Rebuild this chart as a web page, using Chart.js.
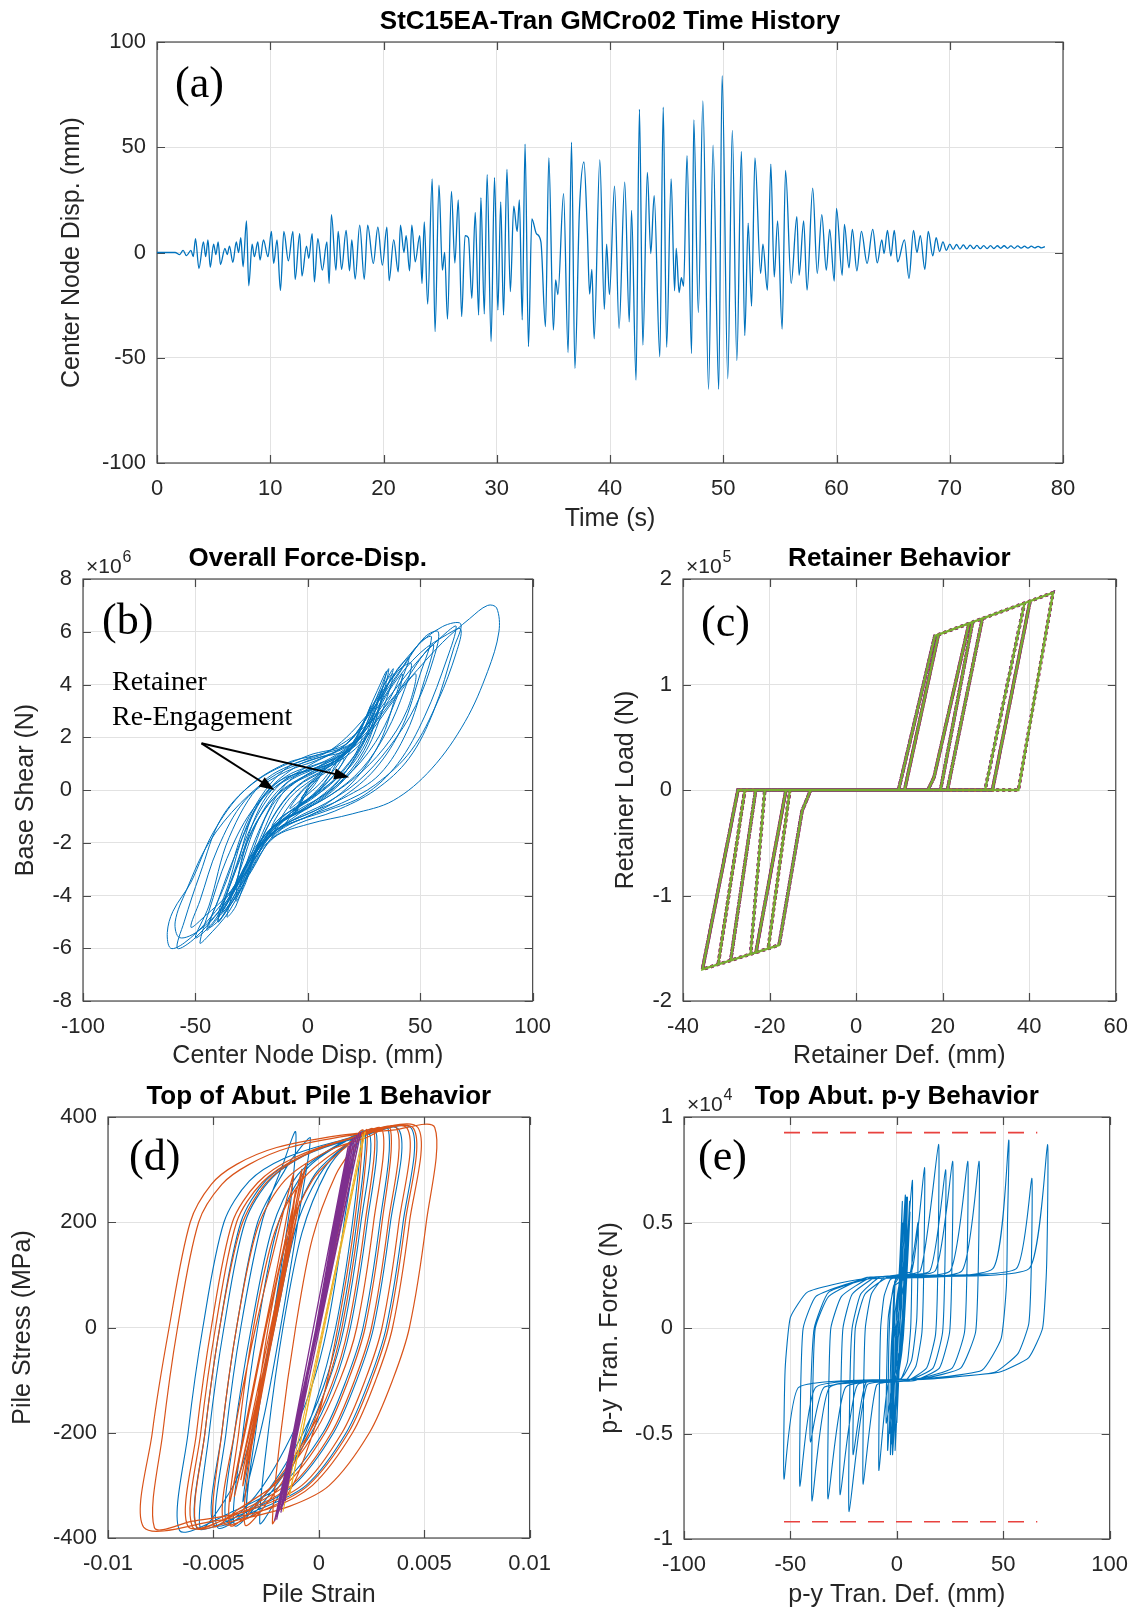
<!DOCTYPE html>
<html>
<head>
<meta charset="utf-8">
<script src="https://cdn.jsdelivr.net/npm/chart.js@4.4.1/dist/chart.umd.min.js"></script>
<style>
  html, body { margin: 0; padding: 0; background: #fff; }
  body { width: 1141px; height: 1612px; position: relative; overflow: hidden; }
  canvas { position: absolute; }
</style>
</head>
<body>
<canvas id="panelA"></canvas>
<canvas id="panelB"></canvas>
<canvas id="panelC"></canvas>
<canvas id="panelD"></canvas>
<canvas id="panelE"></canvas>
<script>
// ---- data ----

// (a) time history: [time s, center node disp mm]
const timeHistory = [
  [0,0],[1.6,0],[2.0,-1],[2.3,1],[2.6,-1.5],[3.0,1],[3.2,-2],[3.4,6.6],[3.7,-7.6],[4.1,5],[4.3,-2],[4.5,6],[4.7,-7],
  [5.0,4],[5.2,-1],[5.4,5],[5.6,-5.7],[6.0,2],[6.2,-1],[6.4,3],[6.7,-4.7],[7.0,5],[7.2,0],[7.4,7],[7.6,-6.8],[7.9,15],
  [8.1,-15.8],[8.4,4],[8.6,-2],[8.9,5],[9.1,-3.6],[9.4,6],[9.8,-2],[10.1,10],[10.3,-5.2],[10.6,6],[10.9,-18],[11.2,10],
  [11.6,-4],[12.0,10],[12.2,-12.8],[12.6,9],[12.8,-11.2],[13.2,3],[13.4,-2.8],[13.7,9],[13.9,-14],[14.2,6.6],[14.6,-8.4],
  [15.0,5],[15.2,-14.7],[15.4,18],[15.8,-8.4],[16.0,10],[16.3,-8],[16.7,10.5],[17.0,-8.7],[17.2,6],[17.5,-12.6],[17.9,13],
  [18.3,-12.8],[18.6,13],[19.1,-5.2],[19.5,12],[19.9,-6],[20.3,12],[20.5,-13.4],[20.9,6],[21.3,-9.2],[21.5,13],[21.8,0],
  [22.0,8],[22.3,-8.7],[22.5,13],[22.8,-4.4],[23.2,8],[23.4,-14.7],[23.6,14.5],[23.9,-24.5],[24.3,35],[24.55,-37.6],
  [24.9,32],[25.2,-8.4],[25.4,0],[25.65,-31.6],[26.0,29],[26.3,-5],[26.6,25],[26.9,-30.5],[27.2,8],[27.5,7],[27.8,-21.8],
  [28.1,19],[28.4,-29.7],[28.6,26],[28.9,-29.2],[29.15,37],[29.5,-42.3],[29.8,35.5],[30.1,-27.3],[30.35,24],[30.6,-29.7],
  [30.9,39.5],[31.2,-18.6],[31.5,22],[31.8,10],[32.0,25],[32.25,-32],[32.5,51.5],[32.8,-44.7],[33.1,16],[33.5,9],[33.9,5],
  [34.3,-35.2],[34.6,45],[35.0,-36.8],[35.2,-13],[35.4,-20],[35.9,28],[36.3,-47.5],[36.6,52.4],[36.9,-55],[37.3,20],
  [37.7,43],[38.0,10],[38.2,-19.8],[38.4,-8],[38.6,-41],[39.1,44],[39.5,-27],[39.7,4],[39.95,-20],[40.4,31.5],[40.8,-36],
  [41.3,33.4],[41.7,-33],[41.9,20],[42.3,-60.6],[42.6,68],[42.9,-44],[43.3,38],[43.6,-0.5],[43.9,27],[44.4,-49.5],
  [44.7,69],[45.0,-45],[45.4,35],[45.7,-18.2],[45.85,2],[46.1,-19],[46.3,-12],[46.5,-16],[46.8,46],[47.2,-48],[47.4,63],
  [47.8,-28.5],[48.2,72],[48.7,-64.9],[49.1,51],[49.6,-64.9],[49.9,84],[50.4,-60],[50.8,58],[51.2,-51.4],[51.6,48],
  [51.9,-39.5],[52.2,14],[52.5,-25.5],[52.8,45],[53.3,-10],[53.5,4],[53.9,-17.9],[54.2,42],[54.5,-11.6],[54.8,15],
  [55.2,-36.4],[55.5,39],[56.0,-14.7],[56.5,17],[56.7,-10.8],[57.1,15],[57.4,-17.9],[57.9,30.6],[58.3,-10],[58.7,18],
  [59.1,-8.4],[59.4,11],[59.8,-13.6],[60.0,21],[60.5,-10.8],[60.7,13.4],[61.1,-7.3],[61.4,11],[61.8,-8.7],[62.2,10],
  [62.7,-5.2],[63.2,11],[63.6,-4.9],[64.0,6],[64.2,-0.5],[64.5,10.5],[64.8,-1.7],[65.1,10.5],[65.4,-4.4],[66.0,6],
  [66.4,-12.3],[66.8,10.5],[67.1,0],[67.4,8],[67.8,-8],[68.1,10],[68.5,-1.6],[68.8,7],[69.1,0.5],[69.4,5],[69.7,1],
  [70.0,4],[70.3,1.5],[70.6,3.8],[70.9,1.6],[71.2,3.6],[71.5,1.7],[71.8,3.5],[72.1,1.8],[72.4,3.4],[72.7,1.8],[73.0,3.3],
  [73.3,1.9],[73.6,3.3],[73.9,1.9],[74.2,3.2],[74.5,2.0],[74.8,3.2],[75.1,2.0],[75.4,3.1],[75.7,2.0],[76.0,3.1],[76.3,2.1],
  [76.6,3.0],[76.9,2.1],[77.2,3.0],[77.5,2.2],[77.8,2.9],[78.1,2.2],[78.4,2.8]
];

// (b) overall force-disp: [disp mm, base shear x1e6 N]
const forceDisp = [
  [0,0],[-3,-0.5],[-5,-0.8],[0,0.1],[5,0.6],[8,0.9],[3,0.2],[-2,-0.3],[-6,-0.9],
  [-2,-0.2],[4,0.4],[10,1.0],[14,1.3],[10,0.6],[4,-0.1],[-4,-0.6],[-12,-1.5],[-16,-1.8],
  [-10,-0.8],[0,0.2],[10,0.8],[18,1.6],[12,0.8],[2,-0.2],[-8,-0.9],[-18,-1.9],[-24,-2.6],
  [-16,-1.1],[-5,0.1],[8,0.8],[20,1.8],[28,3.2],[22,2.0],[12,0.6],[0,-0.4],[-14,-1.2],[-24,-2.8],[-30,-3.6],
  [-22,-1.6],[-10,0.2],[5,0.9],[20,1.8],[30,3.6],[35,4.5],[30,3.0],[22,1.4],[10,0.0],[-5,-0.8],[-20,-1.8],[-30,-3.8],[-38,-4.6],
  [-30,-2.6],[-18,-0.2],[0,0.9],[18,1.8],[30,3.4],[38,4.6],[33,3.4],[25,1.5],[12,0.1],[-4,-0.9],[-20,-2.0],[-32,-4.0],[-40,-5.0],
  [-32,-3.0],[-22,-0.5],[-5,0.9],[15,1.6],[30,3.2],[40,4.6],[45,5.0],[40,3.8],[32,1.8],[20,0.3],[5,-0.7],[-12,-1.4],[-25,-2.6],[-38,-4.6],[-45,-5.3],
  [-36,-3.4],[-26,-1.0],[-10,0.8],[10,1.5],[28,3.0],[40,4.4],[50,5.6],[55,5.8],[50,4.4],[42,2.4],[30,0.8],[15,-0.3],[0,-1.0],[-15,-1.6],[-28,-3.2],[-42,-5.0],[-50,-5.6],
  [-44,-4.4],[-35,-1.8],[-20,0.3],[0,1.2],[20,1.8],[35,3.4],[50,5.0],[62,6.0],[66,6.2],[62,5.0],[52,2.8],[40,1.0],[25,-0.2],[8,-0.8],[-8,-1.3],[-22,-2.2],[-36,-4.2],[-50,-5.6],[-58,-6.0],
  [-55,-5.0],[-48,-3.2],[-38,-1.0],[-22,0.4],[0,1.3],[18,1.8],[32,3.6],[48,5.4],[60,6.2],[68,6.3],[65,5.4],[56,3.0],[45,1.2],[30,0.0],[12,-0.8],[-5,-1.3],[-18,-2.0],[-30,-3.4],[-45,-5.0],[-55,-5.8],[-61,-6.0],
  [-62.5,-5.4],[-60,-4.6],[-52,-3.5],[-42,-1.6],[-28,0.0],[-10,1.0],[10,1.5],[28,2.6],[45,4.2],[60,5.6],[72,6.5],[80,7.0],[84,6.9],[85,6.0],[80,4.5],[70,2.6],[55,0.8],[38,-0.4],[20,-0.9],[0,-1.3],[-15,-1.8],[-25,-3.0],[-35,-4.6],[-45,-5.6],[-48,-5.8],
  [-44,-4.6],[-36,-2.6],[-25,-0.8],[-10,0.5],[10,1.2],[25,2.2],[38,4.0],[50,5.2],[62,5.9],[68,6.1],[66,5.2],[58,3.4],[46,1.5],[30,0.2],[15,-0.5],[0,-1.0],[-14,-1.6],[-26,-3.2],[-38,-4.8],[-44,-5.2],
  [-40,-4.2],[-32,-2.4],[-20,-0.3],[0,0.8],[18,1.5],[30,3.0],[42,4.6],[52,5.8],[58,6.0],[56,5.0],[48,3.2],[36,1.6],[22,0.3],[8,-0.5],[-6,-1.1],[-20,-2.0],[-30,-3.6],[-40,-5.0],
  [-34,-3.4],[-24,-1.2],[-10,0.4],[8,1.0],[22,1.9],[32,3.8],[36,4.6],[33,3.5],[25,1.8],[14,0.4],[0,-0.6],[-14,-1.3],[-24,-2.5],[-34,-4.2],[-40,-4.8],
  [-35,-3.5],[-28,-1.6],[-15,0.2],[5,0.9],[20,1.6],[30,3.2],[40,4.5],[46,4.8],[43,3.8],[35,2.2],[24,0.8],[10,-0.2],[-5,-0.9],[-18,-1.6],[-26,-3.0],[-32,-4.4],[-36,-4.8],
  [-30,-3.0],[-20,-0.8],[-6,0.5],[12,1.1],[26,2.3],[34,4.0],[38,4.4],[34,3.2],[26,1.5],[14,0.2],[0,-0.7],[-12,-1.2],[-22,-2.2],[-28,-3.6],[-32,-4.2],
  [-28,-2.2],[-18,-0.6],[-4,0.4],[12,1.0],[24,1.8],[40,3.6],[48,4.4],[44,3.0],[34,1.6],[20,0.4],[4,-0.5],[-10,-1.1],[-22,-2.0],[-34,-3.8],[-46,-4.8],[-52,-5.2],
  [-48,-4.2],[-40,-2.2],[-28,-0.4],[-12,0.6],[6,1.2],[24,2.0],[36,3.4],[42,4.4],[40,3.6],[30,1.8],[16,0.4],[0,-0.6],[-14,-1.4],[-26,-2.6],[-36,-4.2],[-48,-5.3],[-57,-5.6],
  [-59,-5.0],[-54,-3.8],[-44,-2.0],[-30,-0.5],[-14,0.6],[4,1.2],[20,1.6],[34,3.0],[44,4.2],[52,5.2],[56,5.5],[52,4.2],[44,2.2],[32,0.6],[16,-0.3],[0,-0.9],[-14,-1.5],[-24,-2.4],[-33,-3.9],[-38,-4.6],
  [-33,-3.8],[-26,-1.8],[-14,-0.2],[2,0.7],[16,1.3],[26,2.4],[33,3.8],[30,2.6],[20,1.0],[6,0.0],[-8,-0.9],[-20,-1.8],[-30,-3.4],[-35,-4.0],
  [-26,-2.6],[-16,-0.6],[-2,0.5],[14,1.2],[24,2.2],[30,2.9],[26,2.0],[16,0.8],[4,-0.2],[-8,-0.9],[-18,-1.8],[-26,-3.0],
  [-20,-1.6],[-10,0.0],[4,0.7],[16,1.3],[24,2.0],[20,1.2],[10,0.2],[-2,-0.5],[-14,-1.2],[-22,-2.2],
  [-14,-0.8],[-4,0.2],[8,0.8],[16,1.2],[12,0.6],[2,-0.2],[-8,-0.8],[-16,-1.4],
  [-8,-0.3],[2,0.4],[10,0.8],[6,0.3],[-2,-0.3],[-8,-0.7],[-2,0.0],[4,0.4],[1,0.1],[-3,-0.3]
];
const arrowTail = [-47.3, 1.77];
const arrowHeads = [[-14.9, 0.0], [18.4, 0.48]];

// (c) retainer: [def mm, load x1e5 N]
const retainerPath = [
  [0,0],
  [9.8,0],[18.2,1.46],[9.8,0],
  [-10.5,0],[-12.5,-0.2],[-17.8,-1.47],[-12.5,-0.2],[-10.5,0],
  [11.2,0],[19.0,1.47],[11.2,0],
  [-15.3,0],[-20.3,-1.50],[-15.3,0],
  [16.6,0],[18.0,0.12],[26.1,1.58],[18.0,0.12],[16.6,0],
  [-16.2,0],[-23.2,-1.55],[-16.2,0],
  [19.5,0],[26.9,1.59],[19.5,0],
  [-21.1,0],[-24.4,-1.56],[-21.1,0],
  [21.1,0],[29.2,1.63],[21.1,0],
  [-23.2,0],[-29.0,-1.62],[-23.2,0],
  [29.8,0],[38.9,1.77],[29.8,0],
  [-25.7,0],[-31.9,-1.66],[-25.7,0],
  [31.5,0],[40.2,1.79],[31.5,0],
  [-27.3,0],[-35.5,-1.70],[-27.3,0],
  [37.5,0],[45.5,1.87],[18.2,1.46],[9.8,0],
  [-10.5,0],[-12.5,-0.2],[-17.8,-1.47],[-35.5,-1.70],[-27.3,0],[0,0]
];

// (d) pile stress-strain: [strain, stress MPa]
const pileBlue = [
  [0,0],[0.0015,300],[0.0020,365],
  [0.0016,200],[0.0008,0],[-0.0002,-150],[-0.0014,-280],[-0.0022,-340],[-0.0028,-372],
  [-0.0024,-200],[-0.0017,0],[-0.0008,180],[0.0004,300],[0.0014,350],[0.0022,372],
  [0.0018,200],[0.0010,0],[0.0002,-115],[-0.0010,-220],[-0.0026,-320],[-0.0040,-376],
  [-0.0036,-200],[-0.0029,0],[-0.0019,200],[-0.0006,300],[0.0012,352],[0.0027,374],
  [0.0023,200],[0.0015,0],[0.0007,-110],[-0.0005,-210],[-0.0025,-315],[-0.0048,-380],
  [-0.0044,-200],[-0.0037,0],[-0.0027,200],[-0.0017,310],[-0.0011,372],
  [-0.0013,250],[-0.0020,60],[-0.0028,-130],[-0.0038,-280],[-0.0056,-382],
  [-0.0052,-200],[-0.0045,0],[-0.0035,200],[-0.0022,285],[0.0000,340],[0.0020,362],[0.0033,376],
  [0.0029,200],[0.0021,0],[0.0013,-100],[0.0002,-200],[-0.0018,-300],[-0.0042,-352],[-0.0066,-386],
  [-0.0062,-200],[-0.0055,0],[-0.0045,200],[-0.0033,278],[-0.0016,322],[0.0010,355],[0.0038,376],
  [0.0034,200],[0.0026,0],[0.0018,-100],[0.0007,-200],[-0.0012,-300],[-0.0035,-352],[-0.0058,-380],
  [-0.0054,-200],[-0.0047,0],[-0.0037,200],[-0.0025,280],[-0.0008,325],[0.0016,358],[0.0044,378],
  [0.0040,200],[0.0032,0],[0.0024,-100],[0.0013,-200],[-0.0006,-300],[-0.0028,-345],[-0.0050,-374],
  [-0.0046,-200],[-0.0039,0],[-0.0029,200],[-0.0016,300],[-0.0008,345],[-0.0004,360],
  [-0.0008,250],[-0.0016,50],[-0.0025,-150],[-0.0032,-270],[-0.0036,-330],
  [-0.0030,-180],[-0.0020,20],[-0.0010,200],[0.0002,300],[0.0016,350],
  [0.0012,200],[0.0004,0],[-0.0004,-120],[-0.0016,-230],[-0.0030,-320],[-0.0044,-368],
  [-0.0040,-200],[-0.0032,0],[-0.0022,190],[-0.0010,290],[0.0008,345],[0.0024,370],
  [0.0020,200],[0.0012,0],[0.0004,-110],[-0.0008,-220],[-0.0022,-310],[-0.0034,-360],
  [-0.0030,-200],[-0.0022,0],[-0.0013,190],[-0.0002,290],[0.0012,345]
];
const pileOrange = [
  [0,0],[0.0019,370],[0.0021,375],
  [0.0017,200],[0.0009,0],[0.0001,-150],[-0.0010,-280],[-0.0018,-340],[-0.0022,-372],
  [-0.0018,-200],[-0.0011,0],[-0.0003,170],[0.0008,290],[0.0017,345],[0.0023,375],
  [0.0019,200],[0.0011,0],[0.0003,-120],[-0.0008,-230],[-0.0022,-320],[-0.0035,-375],
  [-0.0031,-200],[-0.0024,0],[-0.0015,170],[-0.0003,280],[0.0012,340],[0.0026,376],
  [0.0022,200],[0.0014,0],[0.0006,-110],[-0.0006,-210],[-0.0024,-310],[-0.0042,-376],
  [-0.0038,-200],[-0.0031,0],[-0.0021,180],[-0.0008,280],[0.0012,345],[0.0030,377],
  [0.0026,200],[0.0018,0],[0.0010,-100],[-0.0002,-200],[-0.0020,-295],[-0.0038,-345],[-0.0050,-377],
  [-0.0046,-200],[-0.0039,0],[-0.0029,190],[-0.0016,280],[0.0004,335],[0.0022,360],[0.0034,377],
  [0.0030,200],[0.0022,0],[0.0014,-100],[0.0003,-200],[-0.0016,-300],[-0.0038,-350],[-0.0058,-378],
  [-0.0054,-200],[-0.0047,0],[-0.0037,190],[-0.0025,275],[-0.0008,325],[0.0015,360],[0.0037,378],
  [0.0033,200],[0.0025,0],[0.0017,-100],[0.0006,-200],[-0.0013,-300],[-0.0036,-350],[-0.0062,-378],
  [-0.0058,-200],[-0.0051,0],[-0.0041,200],[-0.0029,275],[-0.0012,322],[0.0015,360],[0.0042,378],
  [0.0038,200],[0.0030,0],[0.0022,-100],[0.0011,-200],[-0.0008,-300],[-0.0035,-350],[-0.0060,-368],[-0.0078,-380],
  [-0.0074,-200],[-0.0067,0],[-0.0057,200],[-0.0046,272],[-0.0033,310],[-0.0014,342],[0.0015,365],[0.0047,380],
  [0.0043,200],[0.0035,0],[0.0027,-100],[0.0016,-200],[-0.0003,-300],[-0.0022,-342],[-0.0050,-368],[-0.0083,-380],
  [-0.0079,-200],[-0.0071,0],[-0.0061,200],[-0.0051,272],[-0.0039,310],[-0.0020,342],[0.0010,365],[0.0035,375],[0.0055,380],
  [0.0051,200],[0.0043,0],[0.0035,-100],[0.0024,-200],[0.0005,-300],[-0.0014,-340],[-0.0038,-365],[-0.0060,-378],
  [-0.0056,-200],[-0.0049,0],[-0.0039,200],[-0.0027,275],[-0.0010,322],[0.0016,360],[0.0045,378],
  [0.0041,200],[0.0033,0],[0.0025,-100],[0.0014,-200],[-0.0005,-300],[-0.0025,-345],[-0.0045,-372],
  [-0.0040,-200],[-0.0030,0],[-0.0018,200],[-0.0012,290],
  [-0.0018,150],[-0.0028,-50],[-0.0038,-250],[-0.0042,-330],
  [-0.0035,-200],[-0.0025,0],[-0.0014,200],[-0.0008,300],
  [-0.0015,150],[-0.0026,-60],[-0.0036,-250],[-0.0040,-320],
  [-0.0030,-150],[-0.0018,80],[-0.0010,250],[-0.0006,310],
  [-0.0012,200],[-0.0022,0],[-0.0032,-200],[-0.0036,-300],
  [-0.0027,-120],[-0.0016,100],[-0.0009,240],
  [-0.0017,80],[-0.0027,-120],[-0.0033,-250],
  [-0.0023,-40],[-0.0014,150],[-0.0010,220],
  [-0.0020,30],[-0.0030,-180],[-0.0034,-260],
  [-0.0025,-60],[-0.0016,120],[-0.0011,260],
  [-0.0019,70],[-0.0029,-140],[-0.0037,-290]
];
const pileYellow = [
  [-0.0017,-350],[0.0022,372],[-0.0014,-320],[0.0021,368]
];
const pilePurple = [
  [-0.0021,-368],[0.0019,370],[-0.0020,-360],[0.0018,366],[-0.0019,-350],[0.0017,362],
  [-0.0018,-345],[0.0016,358],[-0.0017,-338],[0.0015,352],[-0.0016,-330],[0.0014,345],
  [-0.0020,-365],[0.0020,372],[-0.0018,-352],[0.0016,360]
];

// (e) p-y spring: [def mm, force x1e4 N]
const pyPath = [
  [0,0],
  [1,-0.2],[2.5,-0.1],[3.4,0.1],[3.8,0.35],[4,0.63],[1.5,0.25],
  [-1.5,0.2],[-3,0.1],[-3.8,-0.1],[-4.1,-0.35],[-4.3,-0.58],[-1.8,-0.25],
  [2,-0.24],[5,-0.16],[6.5,0],[7.1,0.3],[7.3,0.70],[3.0,0.26],
  [-3,0.23],[-6,0.15],[-7.6,0],[-8.2,-0.3],[-8.4,-0.675],[-4.0,-0.26],
  [4,-0.25],[9,-0.18],[11.8,-0.02],[12.7,0.3],[13,0.76],[7,0.27],
  [-6,0.24],[-12,0.16],[-14.8,0],[-15.6,-0.3],[-15.8,-0.74],[-9.5,-0.27],
  [5,-0.25],[14,-0.19],[18.2,-0.03],[19.3,0.3],[19.6,0.87],[11,0.27],
  [-8,0.24],[-17,0.16],[-21,0],[-22.1,-0.3],[-22.4,-0.87],[-14,-0.27],
  [5,-0.25],[17,-0.19],[21.5,-0.02],[22.6,0.3],[22.9,0.75],[15.5,0.27],
  [-10,0.24],[-21,0.16],[-25.3,0],[-26.3,-0.3],[-26.6,-0.79],[-18.5,-0.27],
  [8,-0.25],[20,-0.19],[24.8,-0.02],[25.9,0.3],[26.2,0.79],[18,0.27],
  [-12,0.24],[-26,0.15],[-31,0],[-32,-0.3],[-32.3,-0.81],[-24,-0.28],
  [10,-0.24],[26,-0.19],[31.8,-0.02],[33,0.3],[33.3,0.79],[25,0.27],
  [-14,0.24],[-32,0.15],[-38.3,0],[-39.5,-0.3],[-39.8,-0.82],[-31.5,-0.28],
  [12,-0.24],[30,-0.19],[37,-0.02],[38.3,0.3],[38.6,0.79],[30.5,0.27],
  [-16,0.23],[-38,0.15],[-44,0],[-45.2,-0.3],[-45.5,-0.75],[-38,-0.28],
  [14,-0.24],[40,-0.2],[49,-0.05],[51.5,0.2],[52,0.5],[52.6,0.89],[45,0.28],
  [-18,0.23],[-42,0.17],[-50,0.05],[-52.5,-0.2],[-53,-0.716],[-46,-0.28],
  [16,-0.24],[48,-0.21],[62,-0.14],[68.5,0],[70.4,0.3],[70.8,0.869],[62,0.28],
  [-10,0.24],[-32,0.17],[-38.8,0],[-40.3,-0.25],[-40.6,-0.54],[-34,-0.28],
  [18,-0.24],[46,-0.21],[57,-0.12],[62,0.02],[63.2,0.3],[63.4,0.71],[56,0.28],
  [-4,0.24],[-15,0.16],[-19.5,0],[-20.3,-0.3],[-20.5,-0.6],[-14.5,-0.26],
  [2,-0.24],[7,-0.15],[9.4,0.05],[10,0.5],[6,0.25],
  [-1,0.2],[-4,0.05],[-5,-0.45],[-1.5,-0.24],
  [1.5,-0.1],[3.2,0.1],[3.8,0.55],[0.8,0.18],
  [-2,0],[-3,-0.2],[-3.3,-0.5],[-0.5,-0.15],
  [2.2,0.1],[2.5,0.45],[0.5,0.1],
  [-1.8,-0.1],[-2,-0.4],[0,0],
  [1.2,0.1],[2,0.35],[2.6,0.6],[1,0.25],[-1,0.22],[-2,0],[-2.6,-0.35],[-3,-0.6],[-1,-0.25],
  [1.5,-0.15],[3,0.1],[4.5,0.4],[5,0.62],[3,0.25],[-0.5,0.24],[-1.5,0],[-2,-0.3],[-2.2,-0.55],[0,-0.25],
  [2,-0.1],[4,0.2],[5.5,0.5],[6,0.6],[4,0.25],[1,0.2],[-1,0.05],[-1.8,-0.35],[-2,-0.6],[0.5,-0.2],
  [2.5,0],[3.5,0.3],[4.5,0.62],[2,0.22],[0,0.1],[-1,-0.2],[-1.5,-0.5],[0.5,-0.25],
  [3,-0.05],[5,0.3],[6.2,0.55],[3.5,0.22],[0.5,0.05],[-0.5,-0.3],[-0.8,-0.58],[1,-0.2],
  [2,0.2],[2.8,0.5],[1.5,0.2],[0.5,-0.1],[0,-0.45],[1.5,-0.1],[3.5,0.2],[4.2,0.45],[2,0.15],[0,0]
];
const pyCapUpper = [[-53, 0.926], [66, 0.926]];
const pyCapLower = [[-53, -0.918], [66, -0.918]];

// axis ranges: [min, max, step]
const timeAxis = [0, 80, 10];
const histDispAxis = [-100, 100, 50];
const dispAxis = [-100, 100, 50];
const shearAxis = [-8, 8, 2];
const retDefAxis = [-40, 60, 20];
const retLoadAxis = [-2, 2, 1];
const strainAxis = [-0.01, 0.01, 0.005];
const stressAxis = [-400, 400, 200];
const pyDefAxis = [-100, 100, 50];
const pyForceAxis = [-1, 1, 0.5];

// ---- drawing ----
const SANS = '"Liberation Sans", Arial, Helvetica, sans-serif';
const SERIF = '"Liberation Serif", "Times New Roman", serif';
Chart.defaults.font.family = SANS;
Chart.defaults.color = '#262626';

const BLUE = '#0072BD', ORANGE = '#D95319', YELLOW = '#EDB120', PURPLE = '#7E2F8E', GREEN = '#77AC30', DRED = '#A2142F';

const pts = arr => arr.map(p => ({ x: p[0], y: p[1] }));

const fmt = step => v => {
  const r = +(Math.round(v / step) * step).toFixed(4);
  return r === 0 ? '0' : String(r);
};

function line(data, color, width, extra) {
  return Object.assign({
    data: pts(data), showLine: true, pointRadius: 0, pointHoverRadius: 0,
    borderColor: color, backgroundColor: color, borderWidth: width, fill: false, tension: 0
  }, extra || {});
}

function drawArrow(ctx, x0, y0, x1, y1) {
  const ang = Math.atan2(y1 - y0, x1 - x0), L = 15, W = 5.5;
  const c = Math.cos(ang), s = Math.sin(ang);
  ctx.beginPath();
  ctx.moveTo(x0, y0);
  ctx.lineTo(x1 - L * 0.8 * c, y1 - L * 0.8 * s);
  ctx.stroke();
  ctx.beginPath();
  ctx.moveTo(x1, y1);
  ctx.lineTo(x1 - L * c + W * s, y1 - L * s - W * c);
  ctx.lineTo(x1 - L * c - W * s, y1 - L * s + W * c);
  ctx.closePath();
  ctx.fill();
}

// frame, inner ticks, title, panel letter, exponent
function deco(opt) {
  return {
    id: 'deco',
    beforeDatasetsDraw(chart) {
      const { ctx, chartArea: a, scales: { x, y } } = chart;
      ctx.save();
      ctx.strokeStyle = '#4a4a4a';
      ctx.lineWidth = 1.2;
      ctx.beginPath();
      x.ticks.forEach(t => {
        const px = Math.round(x.getPixelForValue(t.value)) + 0.5;
        ctx.moveTo(px, a.bottom); ctx.lineTo(px, a.bottom - 8);
        ctx.moveTo(px, a.top); ctx.lineTo(px, a.top + 8);
      });
      y.ticks.forEach(t => {
        const py = Math.round(y.getPixelForValue(t.value)) + 0.5;
        ctx.moveTo(a.left, py); ctx.lineTo(a.left + 8, py);
        ctx.moveTo(a.right, py); ctx.lineTo(a.right - 8, py);
      });
      ctx.stroke();
      ctx.strokeRect(a.left, a.top, a.right - a.left, a.bottom - a.top);
      ctx.restore();
    },
    afterDraw(chart) {
      const { ctx, chartArea: a } = chart;
      ctx.save();
      ctx.fillStyle = '#000';
      ctx.textBaseline = 'alphabetic';
      ctx.font = 'bold 26px ' + SANS;
      ctx.textAlign = 'center';
      ctx.fillText(opt.title, (a.left + a.right) / 2 + (opt.titleDx || 0), a.top - 13.5);
      ctx.textAlign = 'left';
      ctx.font = '44px ' + SERIF;
      ctx.fillText(opt.letter, a.left + opt.lx, a.top + opt.ly);
      if (opt.exp) {
        ctx.fillStyle = '#262626';
        ctx.font = '21px ' + SANS;
        ctx.fillText('\u00d710', a.left + 3, a.top - 6);
        const w = ctx.measureText('\u00d710').width;
        ctx.font = '16px ' + SANS;
        ctx.fillText(opt.exp, a.left + 4 + w, a.top - 17);
      }
      if (opt.extra) opt.extra(chart, ctx);
      ctx.restore();
    }
  };
}

function scales(xr, yr, xTitle, yTitle, xh, yw, xf, yf) {
  const grid = { color: '#e2e2e2', lineWidth: 1, drawTicks: false };
  return {
    x: {
      type: 'linear', min: xr[0], max: xr[1],
      grid, border: { display: false },
      ticks: { stepSize: xr[2], padding: 13, autoSkip: false, maxRotation: 0, font: { size: 22 }, color: '#262626', callback: xf },
      title: { display: true, text: xTitle, font: { size: 25 }, color: '#262626', padding: { top: 0, bottom: 2 } },
      afterFit: s => { s.height = xh; }
    },
    y: {
      type: 'linear', min: yr[0], max: yr[1],
      grid, border: { display: false },
      ticks: { stepSize: yr[2], padding: 11, autoSkip: false, font: { size: 22 }, color: '#262626', callback: yf },
      title: { display: true, text: yTitle, font: { size: 25 }, color: '#262626', padding: { top: 2, bottom: 0 } },
      afterFit: s => { s.width = yw; }
    }
  };
}

function panel(id, box, pad, datasets, sc, opt) {
  const cv = document.getElementById(id);
  cv.width = box[2]; cv.height = box[3];
  cv.style.left = box[0] + 'px'; cv.style.top = box[1] + 'px';
  cv.style.width = box[2] + 'px'; cv.style.height = box[3] + 'px';
  return new Chart(cv, {
    type: 'scatter',
    data: { datasets },
    options: {
      responsive: false, animation: false, devicePixelRatio: 1,
      layout: { padding: { left: 0, top: pad[0], right: pad[1], bottom: 0 } },
      plugins: { legend: { display: false }, tooltip: { enabled: false }, title: { display: false } },
      events: [],
      scales: sc
    },
    plugins: [deco(opt)]
  });
}

// Chart.js paints dataset 0 last (on top), so the top-most series comes first.

// (a)
panel('panelA', [55, 0, 1086, 536], [42, 78],
  [line(timeHistory, BLUE, 1.3, { cubicInterpolationMode: 'monotone' })],
  scales(timeAxis, histDispAxis, 'Time (s)', 'Center Node Disp. (mm)', 73, 102, fmt(10), fmt(50)),
  { title: 'StC15EA-Tran GMCro02 Time History', letter: '(a)', lx: 18, ly: 55 });

// (b)
panel('panelB', [9, 540, 555, 533], [39, 30],
  [line(forceDisp, BLUE, 1.0, { tension: 0.35 })],
  scales(dispAxis, shearAxis, 'Center Node Disp. (mm)', 'Base Shear (N)', 72, 74, fmt(50), fmt(2)),
  { title: 'Overall Force-Disp.', letter: '(b)', lx: 19, ly: 55, exp: '6',
    extra(chart, ctx) {
      const { x, y } = chart.scales;
      ctx.fillStyle = '#000';
      ctx.font = '28px ' + SERIF;
      ctx.textAlign = 'left';
      ctx.fillText('Retainer', 103, 690 - 540);
      ctx.fillText('Re-Engagement', 103, 725 - 540);
      ctx.strokeStyle = '#000';
      ctx.lineWidth = 2;
      const x0 = x.getPixelForValue(arrowTail[0]), y0 = y.getPixelForValue(arrowTail[1]);
      arrowHeads.forEach(h => drawArrow(ctx, x0, y0, x.getPixelForValue(h[0]), y.getPixelForValue(h[1])));
    }
  });

// (c)
panel('panelC', [609, 540, 532, 533], [39, 25],
  [line(retainerPath, GREEN, 2.3),
   line(retainerPath, PURPLE, 3.4, { borderDash: [2, 4] }),
   line(retainerPath, DRED, 3.4, { borderDash: [3, 3] })],
  scales(retDefAxis, retLoadAxis, 'Retainer Def. (mm)', 'Retainer Load (N)', 72, 74, fmt(20), fmt(1)),
  { title: 'Retainer Behavior', letter: '(c)', lx: 18, ly: 57, exp: '5' });

// (d)
panel('panelD', [6, 1075, 558, 537], [42, 30],
  [line(pilePurple, PURPLE, 1.3),
   line(pileYellow, YELLOW, 1.0),
   line(pileOrange, ORANGE, 1.2, { tension: 0.3 }),
   line(pileBlue, BLUE, 1.1, { tension: 0.3 })],
  scales(strainAxis, stressAxis, 'Pile Strain', 'Pile Stress (MPa)', 74, 102, fmt(0.005), fmt(200)),
  { title: 'Top of Abut. Pile 1 Behavior', letter: '(d)', lx: 21, ly: 53 });

// (e)
panel('panelE', [593, 1075, 548, 537], [42, 24],
  [line(pyPath, BLUE, 1.1, { tension: 0.15 }),
   line(pyCapUpper, '#e8423f', 1.6, { borderDash: [16, 12] }),
   line(pyCapLower, '#e8423f', 1.6, { borderDash: [16, 12] })],
  scales(pyDefAxis, pyForceAxis, 'p-y Tran. Def. (mm)', 'p-y Tran. Force (N)', 73, 91, fmt(50), fmt(0.5)),
  { title: 'Top Abut. p-y Behavior', letter: '(e)', lx: 14, ly: 53, exp: '4' });
</script>
</body>
</html>
